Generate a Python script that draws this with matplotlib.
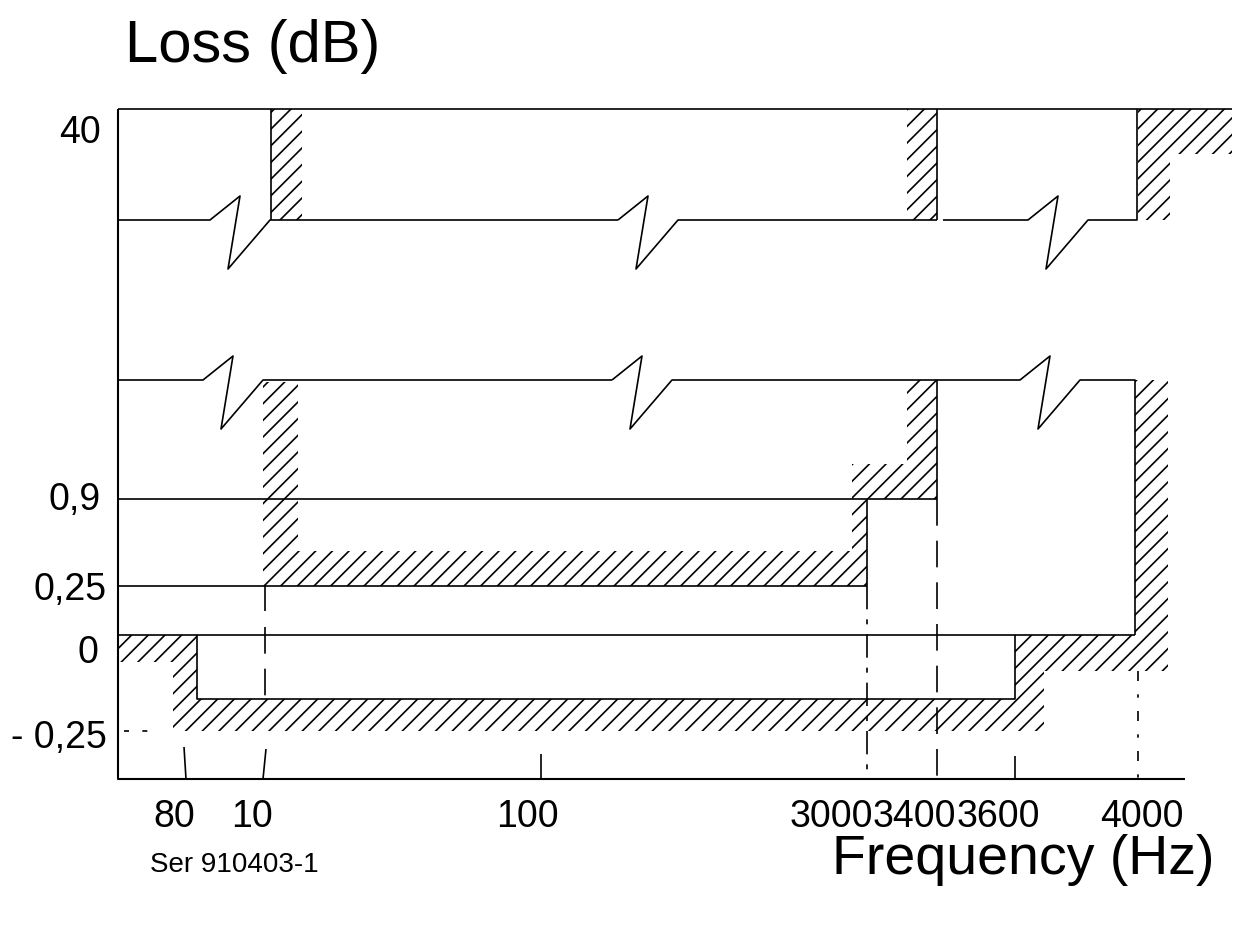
import matplotlib
matplotlib.use("Agg")
import matplotlib.pyplot as plt
from matplotlib.patches import Polygon

plt.rcParams["font.family"] = ["Liberation Sans", "DejaVu Sans"]
plt.rcParams["hatch.linewidth"] = 1.2

# Frequency marks on the (non-linear, schematic) frequency axis
freq_labels = ["80", "10", "100", "3000", "3400", "3600", "4000"]
freq_pos = [185, 265, 541, 867, 937, 1015, 1137]

# Loss levels on the (schematic) loss axis, top to bottom
level_labels = ["40", "0,9", "0,25", "0", "- 0,25"]
level_pos = [110, 500, 587, 636, 732]

# unlabelled levels: the two broken lines and the mask steps
break_upper, break_middle = 221, 381
lower_ripple = 700      # passband lower line
mask_inner = 552        # inner edge of the 0,25 mask band

X0, X1, XR = 118, 1185, 1232   # axis left, axis right, mask right edge
Y_AX = 780

fig = plt.figure(figsize=(12.35, 9.28), dpi=100)
ax = fig.add_axes([0, 0, 1, 1])
ax.set_xlim(0, 1235)
ax.set_ylim(928, 0)
ax.axis("off")

LW = 1.2
f80, f10, f100, f3000, f3400, f3600, f4000 = freq_pos
y40, y09, y025, y0, ym025 = level_pos


def line(xs, ys, **kw):
    kw.setdefault("color", "black")
    kw.setdefault("lw", LW)
    ax.plot(xs, ys, solid_capstyle="butt", **kw)


def hatch(pts):
    ax.add_patch(Polygon(pts, closed=True, facecolor="none",
                         edgecolor="black", lw=0, hatch="//"))


def zig(x, y):
    # axis break symbol starting at (x, y)
    return [x, x + 30, x + 18, x + 60], [y, y - 24, y + 49, y]


# axes
line([X0, X0, X1], [y40, Y_AX, Y_AX], lw=1.5)

# hatched masks
hatch([(271, y40), (302, y40), (302, break_upper), (271, break_upper)])
hatch([(907, y40), (f3400, y40), (f3400, break_upper), (907, break_upper)])
hatch([(f4000 + 1, y40), (XR, y40), (XR, 155), (1170, 155),
       (1170, break_upper), (f4000 + 1, break_upper)])
hatch([(263, break_middle + 2), (298, break_middle + 2), (298, mask_inner),
       (852, mask_inner), (852, 465), (907, 465), (907, break_middle),
       (f3400, break_middle), (f3400, y09), (f3000, y09), (f3000, y025),
       (263, y025)])
hatch([(X0, y0), (197, y0), (197, lower_ripple), (f3600, lower_ripple),
       (f3600, y0), (1135, y0), (1135, break_middle), (1168, break_middle),
       (1168, 672), (1044, 672), (1044, ym025), (173, ym025), (173, 663),
       (X0, 663)])

# top line
line([X0, XR], [y40, y40])

# upper broken line (stop band)
zx, zy = zig(210, break_upper)
line([X0] + zx + [618], [break_upper] + zy + [break_upper])
zx, zy = zig(618, break_upper)
line(zx + [f3400], zy + [break_upper])
zx, zy = zig(1028, break_upper)
line([943] + zx + [f4000, f4000], [break_upper] + zy + [break_upper, y40])
line([271, 271], [y40, break_upper])
line([f3400, f3400], [y40, break_upper])

# middle broken line
zx, zy = zig(203, break_middle)
line([X0] + zx + [612], [break_middle] + zy + [break_middle])
zx, zy = zig(612, break_middle)
line(zx + [f3400, f3400], zy + [break_middle, y09])
zx, zy = zig(1020, break_middle)
line([f3400] + zx + [1135, 1135], [break_middle] + zy + [break_middle, y0])

# passband lines
line([X0, f3400], [y09, y09])
line([f3000, f3000], [y09, y025])
line([X0, f3000], [y025, y025])
line([X0, 1135], [y0, y0])
line([197, 197, f3600, f3600], [y0, lower_ripple, lower_ripple, y0])

# frequency markers
dash = (0, (16, 9))
dashdot = (0, (14, 6, 3, 6))
line([f10, f10], [y025, 612])
line([f10, f10], [628, lower_ripple], ls=dash)
line([f10 + 1, f10 - 2], [750, Y_AX])
line([f80 - 1, f80 + 1], [748, Y_AX])
line([f100, f100], [755, Y_AX])
line([f3000, f3000], [y025, Y_AX], ls=dashdot)
line([f3400, f3400], [y09, Y_AX], ls=dash)
line([f3600, f3600], [757, Y_AX])
line([f4000 + 1, f4000 + 1], [672, Y_AX], ls=(0, (6, 8, 2, 8)))
line([124, 150], [ym025, ym025], ls=(0, (3, 8)))

# tick labels
freq_label_x = [174, 252, 527, 831, 914, 998, 1142]
for lab, x in zip(freq_labels, freq_label_x):
    ax.text(x, 817, lab, ha="center", va="center", fontsize=27)

level_label_x = [101, 101, 107, 98, 107]
level_label_y = [133, 500, 590, 653, 738]
for lab, x, y in zip(level_labels, level_label_x, level_label_y):
    ax.text(x, y, lab, ha="right", va="center", fontsize=27)

ax.text(125, 62, "Loss (dB)", ha="left", va="baseline", fontsize=43)
ax.text(1215, 874, "Frequency (Hz)", ha="right", va="baseline", fontsize=40)
ax.text(150, 872, "Ser 910403-1", ha="left", va="baseline", fontsize=20)

fig.savefig("out.png", dpi=100)
